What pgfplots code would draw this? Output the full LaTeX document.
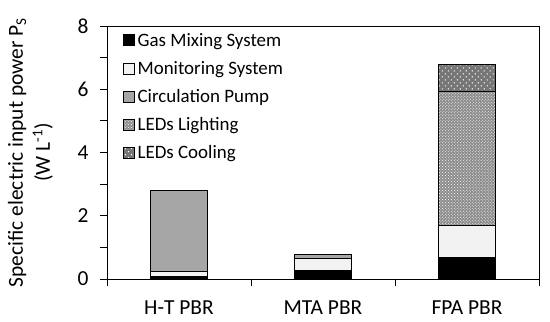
\documentclass[border=0pt]{standalone}
\usepackage{fontspec}
\setmainfont{Carlito}
\usepackage{pgfplots}
\pgfplotsset{compat=1.18}
\usetikzlibrary{patterns}
\pgfdeclarepatternformonly{sparsedots}{\pgfqpoint{-1pt}{-1pt}}{\pgfqpoint{7pt}{7pt}}{\pgfqpoint{6pt}{6pt}}{%
 \pgfpathcircle{\pgfqpoint{0pt}{0pt}}{0.7pt}\pgfpathcircle{\pgfqpoint{3pt}{3pt}}{0.7pt}\pgfusepath{fill}}
\definecolor{pump}{HTML}{A6A6A6}
\definecolor{mon}{HTML}{F2F2F2}
\definecolor{light}{HTML}{8C8C8C}
\definecolor{cool}{HTML}{767676}
\begin{document}
\begin{tikzpicture}
\begin{axis}[
 ybar stacked, bar width=0.4,
 scale only axis, width=432bp, height=253bp,
 xmin=-0.5, xmax=2.5, ymin=0, ymax=8,
 ytick={0,2,4,6,8}, minor ytick={1,3,5,7},
 ytick pos=left, xtick pos=bottom, tick align=outside,
 major tick length=7bp, minor tick length=7bp,
 tick style={black, line width=0.8pt},
 xtick={-0.5,0.5,1.5,2.5}, xticklabels={},
 extra x ticks={0,1,2}, extra x tick labels={H-T PBR, MTA PBR, FPA PBR},
 extra x tick style={major tick length=0pt, xticklabel style={yshift=-18bp}},
 axis line style={black, line width=0.8pt},
 ticklabel style={font=\fontsize{21.5}{24}\selectfont},
 yticklabel style={xshift=-8bp},
 /pgf/number format/assume math mode=true,
 ylabel={Specific electric input power P\textsubscript{S}\\(W L\textsuperscript{-1})},
 ylabel style={align=center, font=\fontsize{21.5}{27}\selectfont},
 ylabel shift=18bp,
 legend image code/.code={\draw[#1, line width=0.5pt] (0bp,-5.5bp) rectangle (11bp,5.5bp);},
 legend style={at={(rel axis cs:0.03,0.985)}, anchor=north west, draw=none, fill=none,
   font=\fontsize{19}{22}\selectfont, row sep=11.5bp, nodes={inner xsep=3bp, inner ysep=1bp}},
 legend cell align=left,
 every axis plot/.append style={draw=black, line width=0.8pt},
]
\addplot[fill=black] coordinates {(0,0.08) (1,0.28) (2,0.67)};
\addplot[fill=mon] coordinates {(0,0.15) (1,0.36) (2,1.01)};
\addplot[fill=pump] coordinates {(0,2.57) (1,0.15) (2,0)};
\addplot[fill=light, postaction={pattern=crosshatch dots, pattern color=white}] coordinates {(0,0) (1,0) (2,4.25)};
\addplot[fill=cool, postaction={pattern=sparsedots, pattern color=white}] coordinates {(0,0) (1,0) (2,0.84)};
\legend{Gas Mixing System, Monitoring System, Circulation Pump, LEDs Lighting, LEDs Cooling}
\end{axis}
\pgfresetboundingbox
\path (current axis.south west) ++(-107bp,-43bp) rectangle ([shift={(11bp,26bp)}]current axis.north east);
\end{tikzpicture}
\end{document}
